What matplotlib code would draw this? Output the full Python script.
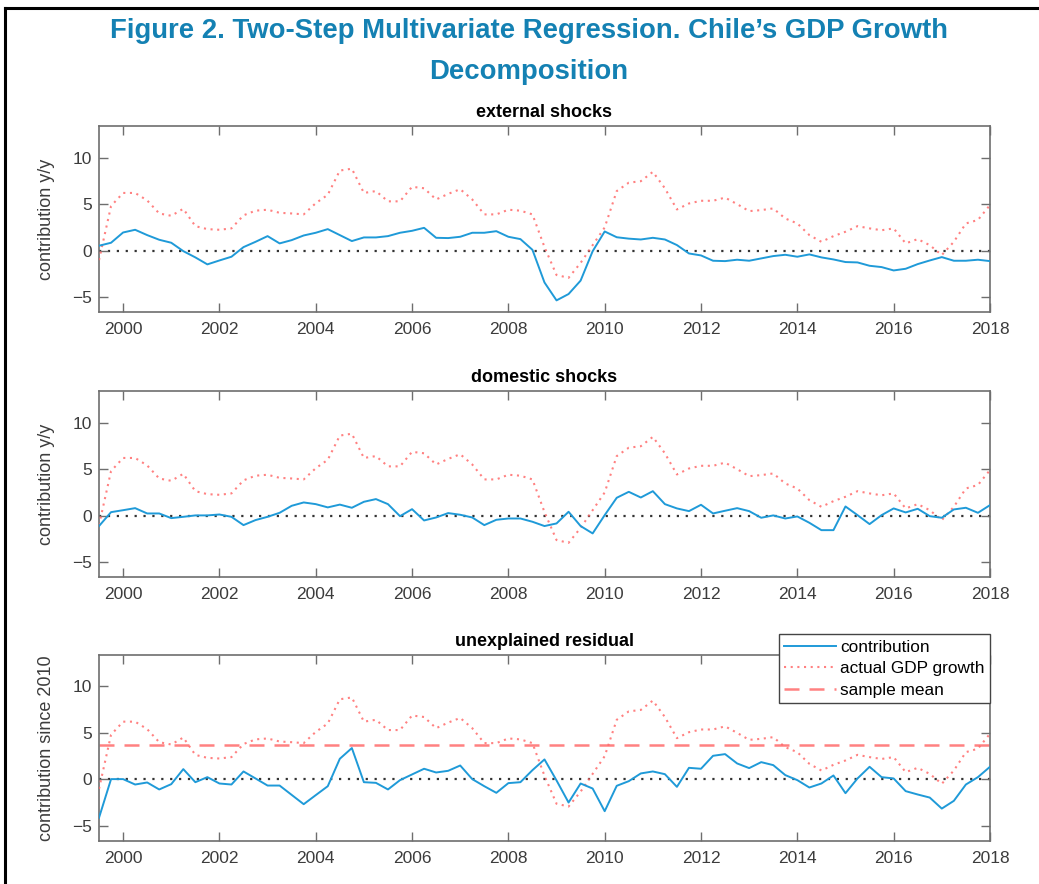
import numpy as np
import matplotlib
matplotlib.use("Agg")
import matplotlib.pyplot as plt
from matplotlib.lines import Line2D

# ─── DATA (quarterly, 1999Q3 .. 2018Q1) ──────────────────────────────────────
start_year = 1999.5
n_quarters = 75

gdp_growth = [
    -1.0, 4.8,
    6.2, 6.2, 5.4, 4.0,
    3.75, 4.5, 2.64, 2.32,
    2.25, 2.4, 3.8, 4.3,
    4.4, 4.07, 4.0, 3.9,
    5.1, 6.0, 8.6, 8.8,
    6.2, 6.4, 5.3, 5.3,
    6.86, 6.7, 5.5, 6.1,
    6.6, 5.5, 3.9, 3.9,
    4.4, 4.3, 3.9, 0.4,
    -2.6, -2.9, -1.3, 0.6,
    2.5, 6.4, 7.3, 7.46,
    8.46, 6.7, 4.43, 5.07,
    5.36, 5.36, 5.7, 5.0,
    4.25, 4.36, 4.54, 3.46,
    2.93, 1.68, 0.96, 1.57,
    2.04, 2.64, 2.4, 2.2,
    2.4, 0.79, 1.25, 0.6,
    -0.46, 0.96, 2.93, 3.3,
    4.9,
]

external = [
    0.54, 0.86,
    1.96, 2.25, 1.68, 1.18,
    0.86, -0.04, -0.71, -1.46,
    -1.04, -0.64, 0.39, 0.96,
    1.57, 0.79, 1.14, 1.64,
    1.93, 2.32, 1.68, 1.04,
    1.43, 1.43, 1.57, 1.93,
    2.14, 2.46, 1.39, 1.36,
    1.5, 1.93, 1.93, 2.1,
    1.5, 1.25, 0.1, -3.4,
    -5.32, -4.64, -3.2, -0.05,
    2.07, 1.45, 1.3, 1.21,
    1.39, 1.21, 0.61, -0.29,
    -0.5, -1.07, -1.11, -0.96,
    -1.07, -0.82, -0.57, -0.43,
    -0.64, -0.39, -0.71, -0.93,
    -1.21, -1.25, -1.61, -1.75,
    -2.11, -1.93, -1.43, -1.04,
    -0.68, -1.07, -1.07, -0.96,
    -1.11,
]

domestic = [
    -1.1, 0.39,
    0.6, 0.82, 0.25, 0.25,
    -0.25, -0.11, 0.04, 0.04,
    0.14, -0.11, -1.0, -0.46,
    -0.11, 0.32, 1.07, 1.43,
    1.25, 0.9, 1.2, 0.86,
    1.5, 1.79, 1.25, -0.04,
    0.71, -0.5, -0.18, 0.29,
    0.11, -0.18, -1.0, -0.43,
    -0.29, -0.29, -0.64, -1.1,
    -0.82, 0.43, -1.1, -1.89,
    0.07, 1.93, 2.57, 1.96,
    2.64, 1.25, 0.79, 0.5,
    1.18, 0.25, 0.54, 0.82,
    0.5, -0.21, 0.04, -0.29,
    -0.07, -0.75, -1.54, -1.54,
    1.0, 0.07, -0.89, 0.07,
    0.79, 0.36, 0.75, -0.04,
    -0.21, 0.68, 0.86, 0.32,
    1.14,
]

residual = [
    -4.1, 0.04,
    0.04, -0.54, -0.32, -1.07,
    -0.5, 1.11, -0.29, 0.25,
    -0.43, -0.54, 0.86, 0.11,
    -0.65, -0.65, -1.65, -2.65,
    -1.68, -0.72, 2.22, 3.37,
    -0.29, -0.36, -1.07, -0.07,
    0.54, 1.15, 0.75, 0.93,
    1.5, 0.04, -0.72, -1.43,
    -0.39, -0.29, 1.0, 2.15,
    -0.1, -2.47, -0.43, -0.97,
    -3.4, -0.68, -0.18, 0.65,
    0.86, 0.57, -0.79, 1.25,
    1.15, 2.54, 2.72, 1.72,
    1.22, 1.86, 1.54, 0.47,
    -0.07, -0.86, -0.43, 0.43,
    -1.47, 0.11, 1.36, 0.25,
    0.11, -1.25, -1.61, -1.94,
    -3.12, -2.29, -0.54, 0.25,
    1.36,
]

sample_mean = 3.66

panel_titles = ["external shocks", "domestic shocks", "unexplained residual"]
panel_ylabels = ["contribution y/y", "contribution y/y", "contribution since 2010"]
year_ticks = list(range(2000, 2019, 2))
value_ticks = [-5, 0, 5, 10]

title_line1 = "Figure 2. Two-Step Multivariate Regression. Chile\u2019s GDP Growth"
title_line2 = "Decomposition"

# ─── STYLE ───────────────────────────────────────────────────────────────────
BLUE = "#1f9ad8"
RED = "#ff6b6b"
TEAL = "#1481b3"
AX_GRAY = "#6e6e6e"
TXT_GRAY = "#3c3c3c"

plt.rcParams.update({
    "font.family": ["Liberation Sans", "DejaVu Sans"],
    "font.size": 12.5,
})

dates = start_year + 0.25 * np.arange(n_quarters)

fig = plt.figure(figsize=(10.39, 8.84), dpi=100)

# frame lines (top and left) as in the source document
fig.add_artist(Line2D([0.005, 1.0], [0.991, 0.991], transform=fig.transFigure,
                      color="black", linewidth=2.2))
fig.add_artist(Line2D([0.005, 0.005], [0.0, 0.991], transform=fig.transFigure,
                      color="black", linewidth=2.2))

for txt, ypos in [(title_line1, 0.9645), (title_line2, 0.9190)]:
    fig.text(0.509, ypos, txt, ha="center", va="center", color=TEAL,
             fontsize=19.8, fontweight="bold")

left, width, height = 0.0953, 0.8575, 0.211
bottoms = [0.6467, 0.3469, 0.0486]
series = [external, domestic, residual]

for k in range(3):
    ax = fig.add_axes([left, bottoms[k], width, height])
    ax.axhline(0, color="#333333", linestyle=(0, (1, 3)), linewidth=1.6, zorder=1)
    if k == 2:
        ax.axhline(sample_mean, color=RED, linestyle=(0, (6, 4)), linewidth=1.8,
                   alpha=0.85, label="sample mean", zorder=2)
    ax.plot(dates, series[k], color=BLUE, linewidth=1.4, label="contribution", zorder=4)
    ax.plot(dates, gdp_growth, color=RED, linestyle=(0, (1, 2.2)), linewidth=1.5,
            alpha=0.85, label="actual GDP growth", zorder=3)

    ax.set_xlim(1999.5, 2018)
    ax.set_ylim(-6.6, 13.4)
    ax.set_xticks(year_ticks)
    ax.set_yticks(value_ticks)
    ax.tick_params(direction="in", length=6.5, width=1.0, color=AX_GRAY,
                   labelcolor=TXT_GRAY, top=True, right=True, labelsize=12.5)
    ax.tick_params(axis="x", pad=7)
    ax.tick_params(axis="y", pad=5)
    for s in ax.spines.values():
        s.set_color(AX_GRAY)
        s.set_linewidth(1.2)

    ax.set_title(panel_titles[k], fontsize=13, fontweight="bold", pad=6)
    ax.set_ylabel(panel_ylabels[k], fontsize=13, color=TXT_GRAY)
    ax.yaxis.set_label_coords(-0.049, 0.5)

    if k == 2:
        handles, labels = ax.get_legend_handles_labels()
        order = [labels.index(n) for n in ["contribution", "actual GDP growth", "sample mean"]]
        leg = ax.legend([handles[i] for i in order], [labels[i] for i in order],
                        loc="upper right", bbox_to_anchor=(1.0, 1.108),
                        borderaxespad=0, fancybox=False, framealpha=1,
                        edgecolor="#444444", handlelength=3.0, handletextpad=0.25,
                        borderpad=0.3, labelspacing=0.38, fontsize=12.4)
        leg.get_frame().set_linewidth(1.0)
        leg.set_zorder(10)

fig.savefig("out.png", dpi=100)
